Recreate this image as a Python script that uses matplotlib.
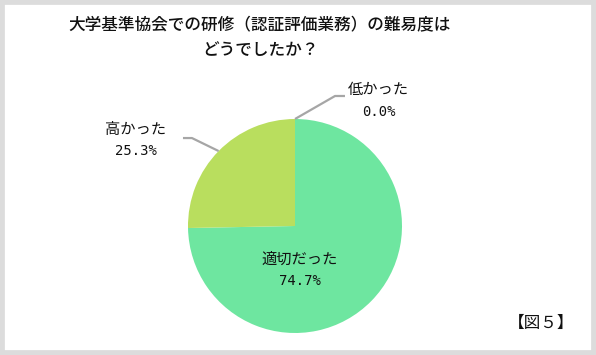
import numpy as np
import matplotlib
matplotlib.use("Agg")
import matplotlib.pyplot as plt
from matplotlib.patches import Rectangle

plt.rcParams['font.family'] = ['Noto Sans CJK JP', 'DejaVu Sans']

title_lines = ["大学基準協会での研修（認証評価業務）の難易度は", "どうでしたか？"]
categories = ["適切だった", "高かった", "低かった"]
values = [74.7, 25.3, 0.0]
colors = ["#6EE6A0", "#B9DE5E", "#F2B36B"]
fig_label = "【図５】"

W, H = 596, 355
fig = plt.figure(figsize=(W / 100, H / 100), dpi=100)
fig.patch.set_facecolor("white")

# gray frame
fig.patches.append(Rectangle((0, 0), 1, 1, transform=fig.transFigure,
                             fill=False, edgecolor="#DCDCDC", linewidth=7, zorder=10))

cx, cy, r = 295, 226, 107
ax = fig.add_axes([(cx - r) / W, (H - cy - r) / H, 2 * r / W, 2 * r / H])
wedges, _ = ax.pie(values, colors=colors, startangle=90, counterclock=False,
                   radius=1.0, wedgeprops=dict(linewidth=0))
ax.set_xlim(-1, 1)
ax.set_ylim(-1, 1)
ax.set_aspect("equal")
ax.axis("off")

def mid_angle(i):
    start = 90 - sum(values[:i]) * 3.6
    return np.deg2rad(start - values[i] * 3.6 / 2)

def pct(v):
    return f"{v:.1f}%"

def label(x, y, i):
    # two-line label: category name, then percentage (monospace digits)
    ax.text(x, y + 0.103, categories[i], ha="center", va="center", fontsize=11,
            color="#111111", clip_on=False)
    ax.text(x, y - 0.103, pct(values[i]), ha="center", va="center", fontsize=10,
            family=["DejaVu Sans Mono"], color="#111111", clip_on=False)

# inside label for main slice
label(0.047, -0.41, 0)

# outside labels with leader lines
outside = {1: dict(elbow=(-0.963, 0.822), end=(-1.047, 0.822), text=(-1.49, 0.80)),
           2: dict(elbow=(0.374, 1.215), end=(0.467, 1.215), text=(0.78, 1.17))}
for i, spec in outside.items():
    a = mid_angle(i)
    p0 = (np.cos(a), np.sin(a))
    xs = [p0[0], spec["elbow"][0], spec["end"][0]]
    ys = [p0[1], spec["elbow"][1], spec["end"][1]]
    ax.plot(xs, ys, color="#A6A6A6", linewidth=1.6, clip_on=False, solid_capstyle="butt")
    label(spec["text"][0], spec["text"][1], i)

fig.text(260 / W, 1 - 25 / H, title_lines[0], ha="center", va="center", fontsize=12,
         fontweight="medium", color="#111111")
fig.text(260 / W, 1 - 50 / H, title_lines[1], ha="center", va="center", fontsize=12,
         fontweight="medium", color="#111111")
fig.text(541 / W, 1 - 323 / H, fig_label, ha="center", va="center", fontsize=12,
         color="#111111")

fig.savefig("out.png", dpi=100)
